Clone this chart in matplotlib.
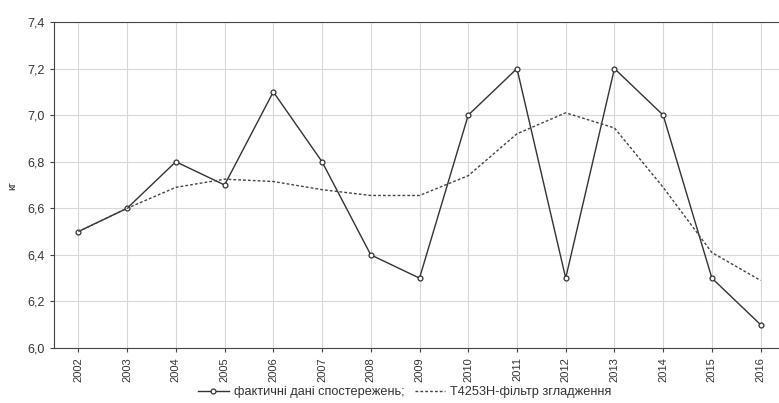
import matplotlib.pyplot as plt

plt.rcParams['font.family'] = ['Liberation Sans', 'DejaVu Sans']

years = list(range(2002, 2017))
actual = [6.5, 6.6, 6.8, 6.7, 7.1, 6.8, 6.4, 6.3, 7.0, 7.2, 6.3, 7.2, 7.0, 6.3, 6.1]
smooth = [6.5, 6.6, 6.69, 6.725, 6.715, 6.68, 6.655, 6.655, 6.74, 6.92, 7.01, 6.945, 6.69, 6.41, 6.29]
yticks = [6.0, 6.2, 6.4, 6.6, 6.8, 7.0, 7.2, 7.4]

fig = plt.figure(figsize=(7.79, 4.03), dpi=100)
# axes runs slightly past the right edge, as in the source image
ax = fig.add_axes([54 / 779, 55 / 403, 731 / 779, 326 / 403])

ax.plot(years, actual, color='#333333', lw=1.0, marker='o', ms=3.5,
        mfc='white', mec='#333333', mew=0.9,
        label='фактичні дані спостережень;')
ax.plot(years, smooth, color='#444444', lw=1.0, ls=(0, (2, 1.5)),
        label='T4253H-фільтр згладження')

ax.set_xlim(2001.5, 2016.5)
ax.set_ylim(6.0, 7.4)
ax.set_xticks(years)
ax.set_xticklabels([str(y) for y in years], rotation=90, fontsize=8, color='#333333')
ax.set_yticks(yticks)
ax.set_yticklabels([f'{v:.1f}'.replace('.', ',') for v in yticks], fontsize=9, color='#333333')
ax.set_ylabel('кг', fontsize=8, color='#333333')
ax.yaxis.set_label_coords(-0.05, 0.5)

ax.grid(True, color='#d8d8d8', lw=0.8)
ax.set_axisbelow(True)
for side in ['left', 'bottom', 'top']:
    ax.spines[side].set_color('#444444')
ax.spines['right'].set_visible(False)
ax.tick_params(axis='both', length=3, color='#444444')

ax.legend(loc='lower center', bbox_to_anchor=(0.48, -0.19), ncol=2, frameon=False,
          fontsize=9.2, handlelength=2.4, handletextpad=0.4, columnspacing=0.8,
          labelcolor='#333333')

fig.savefig('out.png', dpi=100)
